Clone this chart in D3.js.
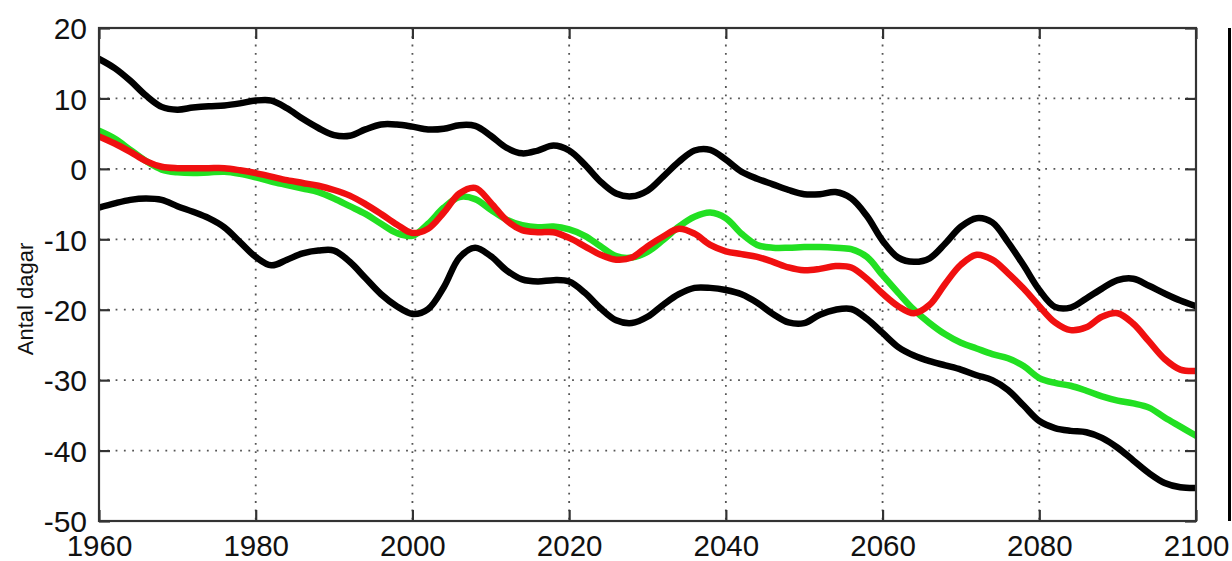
<!DOCTYPE html>
<html><head><meta charset="utf-8">
<script src="https://cdn.jsdelivr.net/npm/d3@7"></script>
<style>
html,body{margin:0;padding:0;background:#fff;}
svg{display:block;}
text{font-family:"Liberation Sans",Arial,Helvetica,sans-serif;}
</style></head><body>
<svg id="chart" width="1232" height="561"></svg>
<script>
const years = d3.range(1960, 2101, 2);
const yTicks = [20, 10, 0, -10, -20, -30, -40, -50];
const xTicks = [1960, 1980, 2000, 2020, 2040, 2060, 2080, 2100];
const yLabel = "Antal dagar";

const upperBlack = [15.6,14.3,12.5,10.4,8.8,8.4,8.7,8.9,9.0,9.3,9.7,9.7,8.6,7.1,5.8,4.8,4.7,5.6,6.3,6.3,
  6.0,5.6,5.7,6.2,6.1,4.7,3.0,2.2,2.6,3.3,2.6,0.6,-1.8,-3.5,-3.9,-3.1,-1.1,1.0,2.6,2.7,
  1.3,-0.4,-1.4,-2.2,-3.0,-3.6,-3.6,-3.3,-4.2,-6.7,-10.2,-12.6,-13.2,-12.7,-10.6,-8.2,-7.0,-7.6,-10.4,-13.7,
  -17.2,-19.6,-19.7,-18.4,-17.0,-15.8,-15.6,-16.6,-17.7,-18.7,-19.5];
const redSeries = [4.6,3.6,2.4,1.1,0.3,0.1,0.1,0.1,0.1,-0.2,-0.6,-1.1,-1.6,-2.0,-2.4,-3.0,-3.8,-5.0,-6.4,-7.9,
  -9.1,-8.5,-6.2,-3.5,-2.7,-4.8,-7.3,-8.7,-9.0,-9.0,-9.8,-11.0,-12.2,-12.9,-12.6,-11.0,-9.6,-8.5,-9.2,-10.8,
  -11.7,-12.1,-12.5,-13.2,-14.0,-14.4,-14.2,-13.8,-14.0,-15.6,-17.7,-19.5,-20.5,-19.3,-16.3,-13.6,-12.2,-12.9,-14.8,-17.0,
  -19.5,-21.8,-22.9,-22.5,-21.0,-20.5,-22.0,-24.5,-27.0,-28.5,-28.7];
const greenSeries = [5.4,4.3,2.7,1.1,-0.1,-0.5,-0.6,-0.5,-0.4,-0.7,-1.2,-1.8,-2.3,-2.8,-3.3,-4.2,-5.3,-6.4,-7.8,-9.1,
  -9.5,-7.8,-5.5,-4.0,-4.3,-5.8,-7.2,-8.0,-8.3,-8.2,-8.6,-9.5,-11.0,-12.4,-12.6,-11.8,-10.1,-8.2,-6.8,-6.2,
  -7.0,-9.2,-10.8,-11.2,-11.2,-11.1,-11.1,-11.2,-11.4,-12.5,-15.1,-17.6,-20.0,-21.9,-23.5,-24.7,-25.5,-26.3,-26.9,-28.0,
  -29.7,-30.4,-30.8,-31.5,-32.3,-32.9,-33.3,-33.9,-35.3,-36.6,-37.9];
const lowerBlack = [-5.5,-4.9,-4.4,-4.2,-4.4,-5.3,-6.1,-7.0,-8.3,-10.4,-12.5,-13.7,-12.9,-12.0,-11.6,-11.6,-13.2,-15.5,-17.8,-19.5,
  -20.6,-19.9,-16.8,-12.6,-11.2,-12.4,-14.4,-15.7,-16.0,-15.8,-16.0,-17.6,-19.8,-21.5,-21.9,-21.0,-19.3,-17.8,-16.9,-16.9,
  -17.2,-17.8,-19.0,-20.6,-21.8,-21.9,-20.7,-20.0,-19.9,-21.3,-23.3,-25.3,-26.5,-27.3,-27.9,-28.5,-29.3,-30.0,-31.4,-33.6,
  -35.8,-36.8,-37.2,-37.4,-38.2,-39.6,-41.4,-43.2,-44.6,-45.2,-45.3];

const series = [
  {values: upperBlack, color: "#000000"},
  {values: lowerBlack, color: "#000000"},
  {values: greenSeries, color: "#22e022"},
  {values: redSeries, color: "#f01010"}
];

const svg = d3.select("#chart");
const L = 99, R = 1196, T = 28, B = 521;
const x = d3.scaleLinear().domain([1960, 2100]).range([L, R]);
const y = d3.scaleLinear().domain([-50, 20]).range([B, T]);

// grid
const grid = svg.append("g");
grid.selectAll("line.gx").data(xTicks.slice(1, -1)).join("line")
  .attr("x1", d => x(d)).attr("x2", d => x(d)).attr("y1", T).attr("y2", B)
  .attr("stroke", "#555").attr("stroke-width", 1.8).attr("stroke-dasharray", "1.8,6.5");
grid.selectAll("line.gy").data(yTicks.slice(1, -1)).join("line")
  .attr("y1", d => y(d)).attr("y2", d => y(d)).attr("x1", L).attr("x2", R)
  .attr("stroke", "#555").attr("stroke-width", 1.8).attr("stroke-dasharray", "1.8,6.5");

// axes with inward ticks
const tickLen = 11;
const plain = d => String(d);
const axL = svg.append("g").attr("transform", `translate(${L},0)`)
  .call(d3.axisLeft(y).tickValues(yTicks).tickSizeInner(-tickLen).tickSizeOuter(0).tickPadding(12).tickFormat(plain));
const axR = svg.append("g").attr("transform", `translate(${R},0)`)
  .call(d3.axisRight(y).tickValues(yTicks).tickSizeInner(-tickLen).tickSizeOuter(0).tickFormat(""));
const axB = svg.append("g").attr("transform", `translate(0,${B})`)
  .call(d3.axisBottom(x).tickValues(xTicks).tickSizeInner(-tickLen).tickSizeOuter(0).tickFormat(plain));
const axT = svg.append("g").attr("transform", `translate(0,${T})`)
  .call(d3.axisTop(x).tickValues(xTicks).tickSizeInner(-tickLen).tickSizeOuter(0).tickFormat(""));
[axL, axR, axB, axT].forEach(a => {
  a.select(".domain").remove();
  a.attr("font-size", null).attr("font-family", null);
  a.selectAll(".tick line").attr("stroke", "#333").attr("stroke-width", 2.2);
  a.selectAll("text").attr("fill", "#111").style("font-size", "30px");
});
axL.selectAll("text").attr("dy", "0.36em");
axB.selectAll("text").attr("dy", "0").attr("y", 34.5).style("font-size", "29.5px");

// lines
const line = d3.line().x((d, i) => x(years[i])).y(d => y(d)).curve(d3.curveCatmullRom.alpha(0.5));
svg.append("clipPath").attr("id", "clip").append("rect")
  .attr("x", L).attr("y", T).attr("width", R - L).attr("height", B - T);
svg.append("g").attr("clip-path", "url(#clip)").selectAll("path").data(series).join("path")
  .attr("d", d => line(d.values)).attr("fill", "none").attr("stroke", d => d.color)
  .attr("stroke-width", 6.5).attr("stroke-linejoin", "round").attr("stroke-linecap", "round");

// frame
svg.append("rect").attr("x", L).attr("y", T).attr("width", R - L).attr("height", B - T)
  .attr("fill", "none").attr("stroke", "#333").attr("stroke-width", 2.2);

// y label
svg.append("text").attr("transform", `translate(33,299) rotate(-90)`)
  .attr("text-anchor", "middle").style("font-size", "22px").attr("fill", "#111").text(yLabel);

// right-edge vertical bar
svg.append("line").attr("x1", 1229.5).attr("x2", 1229.5).attr("y1", T).attr("y2", B)
  .attr("stroke", "#000").attr("stroke-width", 3);
</script></body></html>
